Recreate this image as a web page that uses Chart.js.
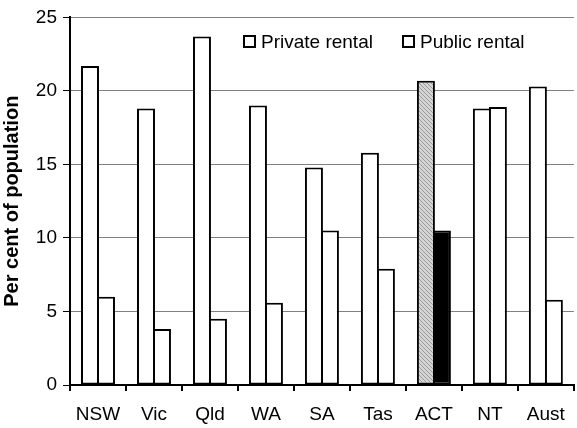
<!DOCTYPE html>
<html>
<head>
<meta charset="utf-8">
<script src="https://cdn.jsdelivr.net/npm/chart.js@4"></script>
<style>
  html, body { margin: 0; padding: 0; background: #fff; }
  #wrap { position: relative; width: 577px; height: 428px; }
  #legend { position: absolute; top: 31px; left: 243px; font: 19px "Liberation Sans", Arial, sans-serif; color: #000; white-space: nowrap; line-height: 22px; }
  #legend span.item { display: inline-block; }
  #legend span.box { display: inline-block; width: 9px; height: 9px; border: 2px solid #000; background: #fff; margin-right: 5px; vertical-align: 0px; }
</style>
</head>
<body>
<div id="wrap">
  <canvas id="myChart" width="577" height="428"></canvas>
  <div id="legend">
    <span class="item" style="margin-right:29px"><span class="box"></span>Private rental</span><span class="item"><span class="box"></span>Public rental</span>
  </div>
</div>
<script>
var states = ['NSW', 'Vic', 'Qld', 'WA', 'SA', 'Tas', 'ACT', 'NT', 'Aust']
var privateRental = [21.7, 18.8, 23.7, 19.0, 14.8, 15.8, 20.7, 18.8, 20.3]
var publicRental = [6.0, 3.8, 4.5, 5.6, 10.5, 7.9, 10.5, 18.9, 5.8]
var yTicks = [0, 5, 10, 15, 20, 25]
var highlight = 'ACT'

// little hatched pattern for the highlighted private bar
function hatch() {
    var c = document.createElement('canvas')
    c.width = 4; c.height = 4
    var g = c.getContext('2d')
    g.fillStyle = '#d4d4d4'
    g.fillRect(0, 0, 4, 4)
    g.fillStyle = '#9a9a9a'
    g.fillRect(0, 0, 1, 1); g.fillRect(1, 1, 1, 1); g.fillRect(2, 2, 1, 1); g.fillRect(3, 3, 1, 1)
    return g.createPattern(c, 'repeat')
}

var privFill = states.map(s => s == highlight ? hatch() : '#fff')
var pubFill = states.map(s => s == highlight ? '#000' : '#fff')

var font = { family: '"Liberation Sans", Arial, sans-serif', size: 19 }

var ctx = document.getElementById('myChart').getContext('2d')
var myChart = new Chart(ctx, {
    type: 'bar',
    data: {
        labels: states,
        datasets: [{
            label: 'Private rental',
            data: privateRental,
            backgroundColor: privFill,
            borderColor: '#000',
            borderWidth: 2,
            borderSkipped: false
        }, {
            label: 'Public rental',
            data: publicRental,
            backgroundColor: pubFill,
            borderColor: '#000',
            borderWidth: 2,
            borderSkipped: false
        }]
    },
    options: {
        responsive: false,
        animation: false,
        layout: { padding: { top: 17, right: 2, left: 0, bottom: 0 } },
        // bars overlap by one border so each pair shares its middle line
        datasets: { bar: { categoryPercentage: 0.571, barPercentage: 1.125 } },
        plugins: { legend: { display: false }, tooltip: { enabled: false } },
        scales: {
            x: {
                afterFit: s => { s.height = 43 },
                grid: { drawOnChartArea: false, offset: true, tickLength: 6, tickColor: '#000', lineWidth: 2 },
                border: { color: '#000', width: 2 },
                ticks: { color: '#000', font: font, padding: 12 }
            },
            y: {
                min: 0, max: 25,
                afterFit: s => { s.width = 70 },
                afterBuildTicks: s => { s.ticks = yTicks.map(v => ({ value: v })) },
                grid: { color: '#808080', lineWidth: 1, tickLength: 7, tickColor: '#000' },
                border: { color: '#000', width: 2 },
                ticks: { color: '#000', font: font, padding: 6 },
                title: { display: true, text: 'Per cent of population', color: '#000', font: { family: font.family, size: 20, weight: 'bold' }, padding: { top: 0, bottom: 2 } }
            }
        }
    }
})
</script>
</body>
</html>
